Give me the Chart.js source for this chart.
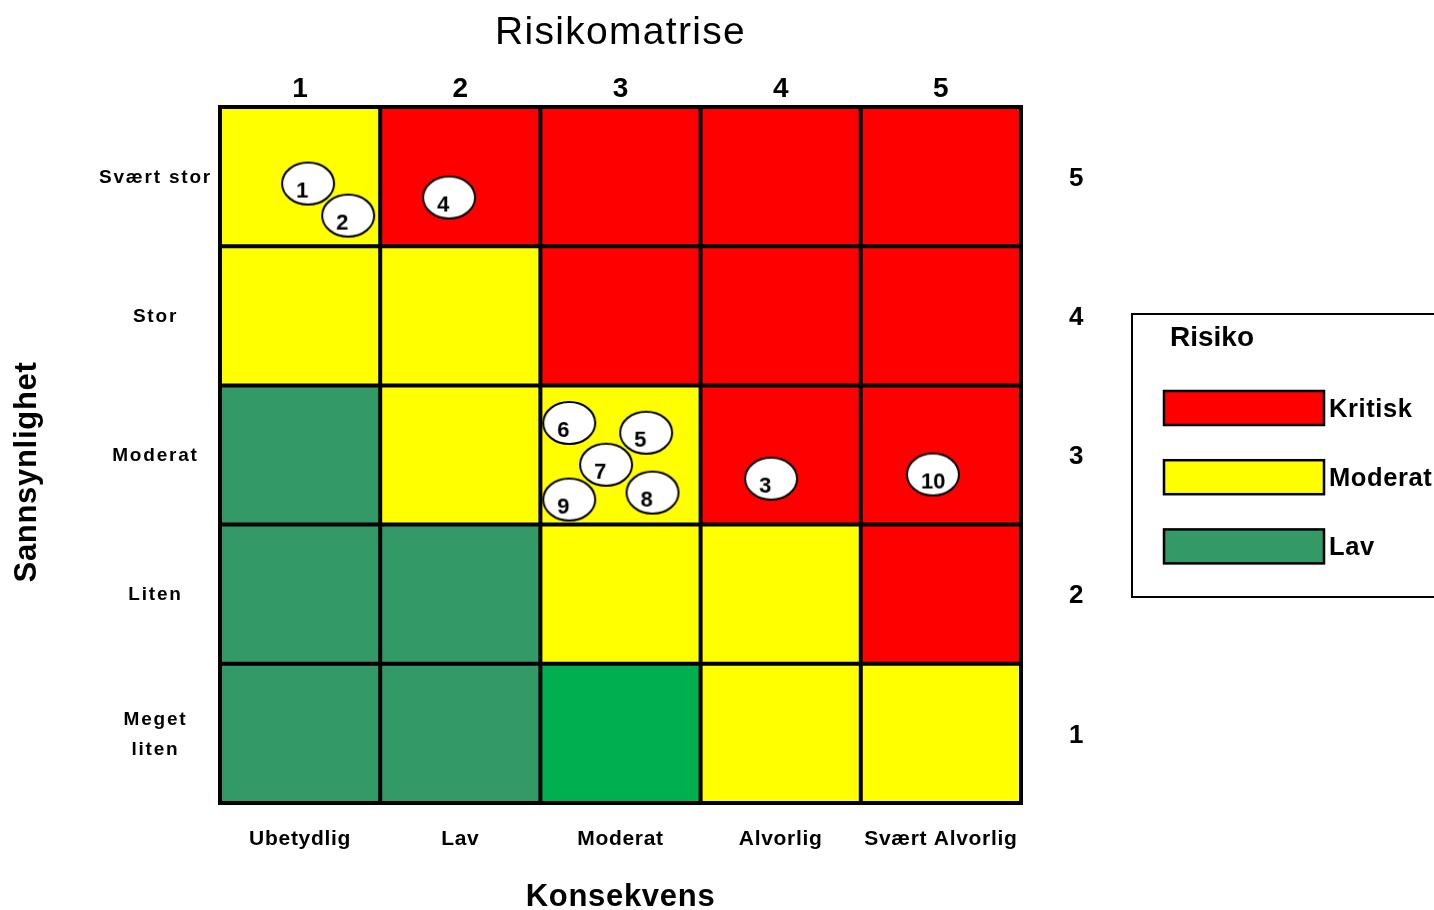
<!DOCTYPE html>
<html><head><meta charset="utf-8">
<script src="https://cdn.jsdelivr.net/npm/chart.js@4"></script>
<style>html,body{margin:0;padding:0;background:#fff;}canvas{display:block;}</style>
</head><body>
<canvas id="c" width="1434" height="910"></canvas>
<script>
// ---------- data ----------
const chartTitle = 'Risikomatrise';
const xAxisTitle = 'Konsekvens';
const yAxisTitle = 'Sannsynlighet';
const consequenceLabels = ['Ubetydlig', 'Lav', 'Moderat', 'Alvorlig', 'Svært Alvorlig'];
const likelihoodLabels = [['Meget', 'liten'], 'Liten', 'Moderat', 'Stor', 'Svært stor'];
const scaleNumbers = ['1', '2', '3', '4', '5'];
// risk level of each cell; rows = likelihood 1..5, columns = consequence 1..5
const cellLevels = [
  ['lav', 'lav', 'lavSterk', 'moderat', 'moderat'],
  ['lav', 'lav', 'moderat', 'moderat', 'kritisk'],
  ['lav', 'moderat', 'moderat', 'kritisk', 'kritisk'],
  ['moderat', 'moderat', 'kritisk', 'kritisk', 'kritisk'],
  ['moderat', 'kritisk', 'kritisk', 'kritisk', 'kritisk']
];
const riskIds = ['1', '2', '3', '4', '5', '6', '7', '8', '9', '10'];
const riskConsequence = [1.05, 1.30, 3.94, 1.93, 3.16, 2.68, 2.91, 3.20, 2.68, 4.95];
const riskLikelihood  = [4.95, 4.72, 2.83, 4.85, 3.16, 3.23, 2.93, 2.73, 2.68, 2.86];
const legendTitle = 'Risiko';
const legendLabels = ['Kritisk', 'Moderat', 'Lav'];
const legendLevels = ['kritisk', 'moderat', 'lav'];

// ---------- styles ----------
const FONT = '"Liberation Sans", Arial, sans-serif';
const levelColors = { kritisk: '#FF0000', moderat: '#FFFF00', lav: '#339966', lavSterk: '#00B050' };

class SpacedScale extends Chart.LinearScale {
  drawLabels(area) {
    const c = this.ctx; c.save();
    c.letterSpacing = (this.options.ticks.letterSpacing || 0) + 'px';
    super.drawLabels(area); c.restore();
  }
  drawTitle() {
    const c = this.ctx; c.save();
    c.letterSpacing = (this.options.title.letterSpacing || 0) + 'px';
    const sh = this.options.title.shift || 0;
    if (this.isHorizontal()) c.translate(sh, 0); else c.translate(0, sh);
    super.drawTitle(); c.restore();
  }
}
SpacedScale.id = 'spacedLinear';
SpacedScale.defaults = {};
Chart.register(SpacedScale);

function makeBadge(text) {
  const c = document.createElement('canvas');
  c.width = 58; c.height = 48;
  const g = c.getContext('2d');
  g.beginPath();
  g.ellipse(29, 24, 26, 21, 0, 0, Math.PI * 2);
  g.fillStyle = '#fff'; g.fill();
  g.fillStyle = '#000';
  g.font = 'bold 22px ' + FONT;
  g.textAlign = 'left'; g.textBaseline = 'alphabetic';
  g.fillText(text, 17, 38);
  g.lineWidth = 2; g.strokeStyle = '#000';
  g.stroke();
  return c;
}

const fixedAxis = (pos) => ({
  type: 'spacedLinear', position: pos, min: 0.5, max: 5.5,
  grid: { display: false, drawTicks: false }, border: { display: false },
  afterBuildTicks: s => { s.ticks = scaleNumbers.map((n, i) => ({ value: i + 1 })); }
});

const cellPlugin = {
  id: 'cells',
  beforeDraw(chart) {
    const ctx = chart.ctx;
    ctx.save(); ctx.fillStyle = '#fff'; ctx.fillRect(0, 0, chart.width, chart.height); ctx.restore();
  },
  beforeDatasetsDraw(chart) {
    const { ctx, scales: { x, y } } = chart;
    ctx.save();
    cellLevels.forEach((row, ri) => {
      const lik = ri + 1;
      row.forEach((lvl, ci) => {
        const con = ci + 1;
        const x0 = x.getPixelForValue(con - 0.5), x1 = x.getPixelForValue(con + 0.5);
        const y0 = y.getPixelForValue(lik + 0.5), y1 = y.getPixelForValue(lik - 0.5);
        ctx.fillStyle = levelColors[lvl];
        ctx.fillRect(x0, y0, x1 - x0, y1 - y0);
      });
    });
    ctx.strokeStyle = '#000'; ctx.lineWidth = 4;
    const top = y.getPixelForValue(5.5), bot = y.getPixelForValue(0.5);
    const left = x.getPixelForValue(0.5), right = x.getPixelForValue(5.5);
    ctx.beginPath();
    for (let k = 0; k <= 5; k++) {
      const px = x.getPixelForValue(k + 0.5);
      ctx.moveTo(px, top - 2); ctx.lineTo(px, bot + 2);
      const py = y.getPixelForValue(k + 0.5);
      ctx.moveTo(left - 2, py); ctx.lineTo(right + 2, py);
    }
    ctx.stroke();
    ctx.restore();
  },
  afterDraw(chart) {
    const ctx = chart.ctx, ca = chart.chartArea;
    const bx = ca.right + 111, by = 314;
    ctx.save();
    ctx.strokeStyle = '#000'; ctx.lineWidth = 2;
    ctx.strokeRect(bx, by, 400, 283);
    ctx.fillStyle = '#000';
    ctx.font = 'bold 28px ' + FONT;
    ctx.textAlign = 'left'; ctx.textBaseline = 'alphabetic';
    ctx.fillText(legendTitle, bx + 38, by + 32);
    legendLabels.forEach((lab, i) => {
      const cy = by + 94 + i * 69.2;
      ctx.fillStyle = levelColors[legendLevels[i]];
      ctx.fillRect(bx + 31, cy - 17, 161, 34);
      ctx.lineWidth = 2.5; ctx.strokeStyle = '#000';
      ctx.strokeRect(bx + 32, cy - 17, 160, 34);
      ctx.fillStyle = '#000';
      ctx.font = 'bold 25.5px ' + FONT;
      ctx.letterSpacing = '0.6px';
      ctx.textBaseline = 'middle';
      ctx.fillText(lab, bx + 197, cy + 2);
      ctx.letterSpacing = '0px';
    });
    ctx.restore();
  }
};

const xBottom = Object.assign(fixedAxis('bottom'), {
  afterFit: s => { s.height = 107; },
  ticks: { padding: 24, font: { family: FONT, size: 21, weight: 'bold' }, color: '#000', letterSpacing: 0.7,
           maxRotation: 0, autoSkip: false, callback: v => consequenceLabels[Math.round(v) - 1] },
  title: { display: true, text: xAxisTitle, color: '#000', letterSpacing: 0.7,
           font: { family: FONT, size: 31, weight: 'bold', lineHeight: 1 }, padding: { top: 0, bottom: -3 } }
});
const xTop = Object.assign(fixedAxis('top'), {
  afterFit: s => { s.height = 107; },
  ticks: { padding: 3.7, font: { family: FONT, size: 28, weight: 'bold', lineHeight: 1 }, color: '#000',
           maxRotation: 0, autoSkip: false, callback: v => scaleNumbers[Math.round(v) - 1] },
  title: { display: true, text: chartTitle, color: '#000', letterSpacing: 1.3,
           font: { family: FONT, size: 39, weight: 'normal', lineHeight: 1 }, padding: { top: 13.5, bottom: 0 } }
});
const yLeft = Object.assign(fixedAxis('left'), {
  afterFit: s => { s.width = 220; },
  ticks: { padding: 17, crossAlign: 'center', labelOffset: 1,
           font: { family: FONT, size: 19, weight: 'bold', lineHeight: 1.58 },
           color: '#000', letterSpacing: 1.8, autoSkip: false,
           callback: v => likelihoodLabels[Math.round(v) - 1] },
  title: { display: true, text: yAxisTitle, color: '#000', letterSpacing: 0.7, shift: 17,
           font: { family: FONT, size: 31, weight: 'bold', lineHeight: 1 }, padding: { top: 11.8, bottom: 0 } }
});
const yRight = Object.assign(fixedAxis('right'), {
  afterFit: s => { s.width = 120; },
  ticks: { padding: 48, labelOffset: 2, font: { family: FONT, size: 26, weight: 'bold' }, color: '#000', autoSkip: false,
           callback: v => scaleNumbers[Math.round(v) - 1] }
});

new Chart(document.getElementById('c'), {
  type: 'scatter',
  data: {
    datasets: [{
      label: 'Risikoer',
      data: riskIds.map((id, i) => ({ x: riskConsequence[i], y: riskLikelihood[i] })),
      pointStyle: riskIds.map(makeBadge),
      pointRadius: 26,
      xAxisID: 'x', yAxisID: 'y'
    }]
  },
  options: {
    responsive: false, devicePixelRatio: 1, animation: false, events: [],
    layout: { padding: { left: 0, top: 0, bottom: 0, right: 1434 - 1021 - 120 } },
    scales: { x: xBottom, x2: xTop, y: yLeft, y2: yRight },
    plugins: { legend: { display: false }, tooltip: { enabled: false }, title: { display: false } }
  },
  plugins: [cellPlugin]
});
</script>
</body></html>
